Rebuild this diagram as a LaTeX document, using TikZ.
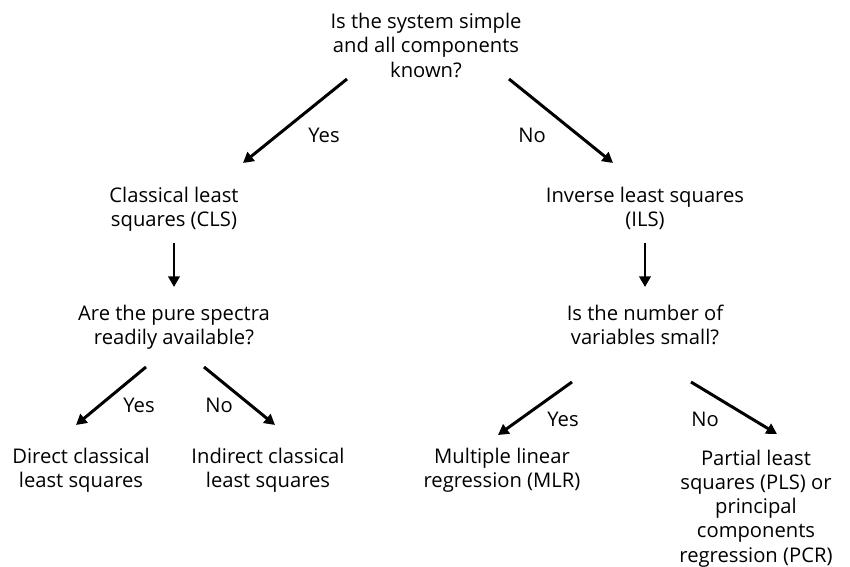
\documentclass[tikz,border=0pt]{standalone}
\usepackage{fontspec}
\setmainfont{Open Sans}
\usetikzlibrary{positioning, arrows.meta}

\begin{document}
\begin{tikzpicture}[
		x=0.02cm, y=-0.02cm,
		font=\fontsize{11.5}{13.8}\selectfont,
		>={Triangle[length=6pt, width=6.4pt]},
		question/.style={align=center, inner sep=0pt, anchor=north},
		method/.style={align=center, inner sep=0pt, anchor=north},
		branch/.style={inner sep=0pt},
		flow/.style={->, line width=1.7pt}
		]
		
		\useasboundingbox (0,0) rectangle (850,567);
		
		% ==========================================
		% 1. FIRST DECISION
		% ==========================================
		
		\node[question] (system) at (426,13) {Is the system simple\\and all components\\known?};
		\node[method] (cls) at ([shift={(-252,173.5)}]system.north) {Classical least\\squares (CLS)};
		\node[method] (ils) at ([shift={(219,173.5)}]system.north) {Inverse least squares\\(ILS)};
		
		\draw[flow] ([shift={(-79,66)}]system.north) -- ([shift={(69,-23.5)}]cls.north);
		\draw[flow] ([shift={(83,66)}]system.north) -- ([shift={(-32,-23.5)}]ils.north);
		\node[branch] (yes1) at (324,135) {Yes};
		\node[branch] (no1) at (532,135) {No};
		
		% ==========================================
		% 2. CLASSICAL BRANCH
		% ==========================================
		
		\node[question] (spectra) at ([shift={(0,118)}]cls.north) {Are the pure spectra\\readily available?};
		\draw[flow] ([shift={(0,56.5)}]cls.north) -- ([shift={(0,-17.5)}]spectra.north);
		
		\node[method] (direct) at ([shift={(-93,143)}]spectra.north) {Direct classical\\least squares};
		\node[method] (indirect) at ([shift={(94,143)}]spectra.north) {Indirect classical\\least squares};
		
		\draw[flow] ([shift={(-28,62.5)}]spectra.north) -- ([shift={(-5,-22.5)}]direct.north);
		\draw[flow] ([shift={(30,62.5)}]spectra.north) -- ([shift={(7,-22.5)}]indirect.north);
		\node[branch] (yes2) at (139,405) {Yes};
		\node[branch] (no2) at (219,405) {No};
		
		% ==========================================
		% 3. INVERSE BRANCH
		% ==========================================
		
		\node[question] (variables) at ([shift={(0,118)}]ils.north) {Is the number of\\variables small?};
		\draw[flow] ([shift={(0,56.5)}]ils.north) -- ([shift={(0,-17.5)}]variables.north);
		
		\node[method] (mlr) at ([shift={(-143,143)}]variables.north) {Multiple linear\\regression (MLR)};
		\node[method] (pls) at ([shift={(111,145)}]variables.north) {Partial least\\squares (PLS) or\\principal\\components\\regression (PCR)};
		
		\draw[flow] ([shift={(-73,77.5)}]variables.north) -- ([shift={(-4,-12.5)}]mlr.north);
		\draw[flow] ([shift={(46,77.5)}]variables.north) -- ([shift={(21,-15.5)}]pls.north);
		\node[branch] (yes3) at (563,419) {Yes};
		\node[branch] (no3) at (705,419) {No};
		
	\end{tikzpicture}
\end{document}
